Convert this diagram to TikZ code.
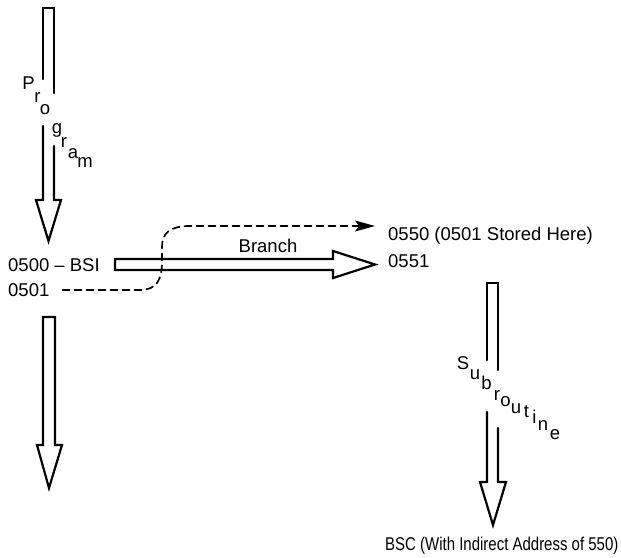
\documentclass[tikz,border=0pt]{standalone}
\usepackage{fontspec}
\setmainfont{Liberation Sans}
\newfontfamily\narrowsans{Liberation Sans}[FakeStretch=0.81]
\usetikzlibrary{arrows.meta}

\newcommand\diagfont{\fontsize{18.5}{22}\selectfont}

\begin{document}
\begin{tikzpicture}[
  x=1pt,
  y=-1pt,
  line join=miter,
  line cap=round,
  outline/.style={draw=black,line width=2.2pt},
  link/.style={draw=black,line width=1.7pt,dash pattern=on 7pt off 5pt},
  addr/.style={inner sep=0pt,anchor=west,font=\diagfont},
  letter/.style={inner sep=0pt,anchor=base,font=\diagfont}
]
  \useasboundingbox (0,0) rectangle (621,557);

  % Addresses and labels.
  \node[addr] (n0500) at (8,265) {0500 -- BSI};
  \node[addr] (n0501) at (8,290) {0501};
  \node[addr] (n0550) at (388,236) {0550 (0501 Stored Here)};
  \node[addr] (n0551) at (388,261) {0551};
  \node[inner sep=0pt,font=\diagfont] (branch) at (268,246) {Branch};
  \node[addr,font=\diagfont\narrowsans] (bsc) at (385,546) {BSC (With Indirect Address of 550)};

  % Staircase lettering beside the broken shafts.
  \foreach \ch/\x/\y [count=\i] in {P/28.5/89,r/37.5/102,o/45/114.5,g/57/133,
                                    r/64/147,a/73/158,m/85/167} {
    \node[letter] (prog\i) at (\x,\y) {\ch};
  }
  \foreach \ch/\x/\y [count=\i] in {S/463/369,u/475/379,b/486.5/389,r/497/400,
                                    o/505.5/406,u/516/413,t/526.5/417,i/534.5/423,
                                    n/543/430,e/555/439} {
    \node[letter] (sub\i) at (\x,\y) {\ch};
  }

  % Key points of the block arrows.
  \coordinate (progtop) at (48.5,8);
  \coordinate (progtip) at (48.5,241);
  \coordinate (nexttop) at (49,317);
  \coordinate (nexttip) at (49,488);
  \coordinate (subtop) at (492.5,283);
  \coordinate (subtip) at (493,525);
  \coordinate (stored) at (375,226);

  % Program flow into BSI.
  \draw[outline] (43,79) -- (43,8) -- (54,8) -- (54,93);
  \draw[outline] (43,126) -- (43,200) -- (36,200) -- (progtip)
    -- (61,200) -- (54,200) -- (54,146);

  % Program flow after return.
  \draw[outline] (43,445) -- (43,317) -- (55,317) -- (55,445) -- (62,445)
    -- (nexttip) -- (37,445) -- cycle;

  % Branch to the subroutine.
  \draw[outline] (333,259) -- (115,259) -- (115,270) -- (333,270) -- (333,278)
    -- (375,264.5) -- (333,251) -- cycle;

  % Subroutine body down to BSC.
  \draw[outline] (487,360) -- (487,283) -- (498,283) -- (498,370);
  \draw[outline] (487,412) -- (487,482) -- (480,482) -- (subtip)
    -- (506,482) -- (498,482) -- (498,428);

  % Return address stored in 0550.
  \draw[link,-{Stealth[length=20pt,width=11pt,inset=4pt]}]
    ([xshift=13pt]n0501.east) -- (140,290)
    .. controls (157,290) and (162,279) .. (162,262) -- (162,247)
    .. controls (162,233) and (170,226) .. (190,226) -- (stored);
\end{tikzpicture}
\end{document}
